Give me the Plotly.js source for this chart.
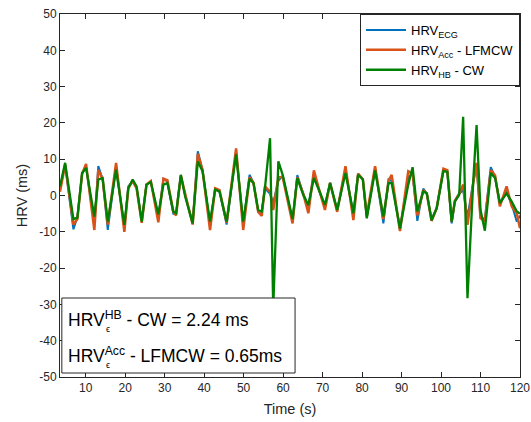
<!DOCTYPE html>
<html>
<head>
<meta charset="utf-8">
<script src="https://cdn.plot.ly/plotly-3.0.1.min.js"></script>
<style>html,body{margin:0;padding:0;background:#fff;}#chart{width:531px;height:422px;}</style>
</head>
<body>
<div id="chart"></div>
<script>
// Time (s)
const timeS = [3.5,4.8,6.9,7.9,9.1,10.1,12.2,13.2,14.3,15.6,17.7,19.8,20.8,21.9,22.9,24.2,25.4,26.5,28.4,29.7,30.7,32.2,32.9,34.1,35.2,37.1,38.4,39.6,41.5,42.8,43.9,45.7,48.1,49.9,51.5,52.5,53.7,54.6,55.4,56.7,57.5,58.8,59.9,62.4,63.6,65.1,66.4,67.8,68.9,70.6,71.9,73.7,75.8,77.8,79.0,80.2,81.2,83.3,85.4,86.7,87.5,89.6,91.7,92.8,94.0,95.5,96.4,97.6,98.9,100.6,101.6,102.7,103.5,104.6,105.6,106.7,108.2,109.0,110.0,111.1,112.6,113.7,114.9,116.6,117.9,119.2,120];
// HRV_ECG (ms)
const hrvECG = [2,8.5,-9.3,-6,6,8,-8,8.1,4.5,-9.5,8,-9,2.5,3.9,2,-7,3,3.7,-6,4.6,3.8,-5,-5,5.5,0,-7.5,12.2,7,-8,2,1,-8,12,-8,5.7,3.5,-4.5,-4.5,2,0.5,-2,4,5.5,-7,5.6,0.5,-3,6,2,-3,3.5,-4,7,-5,6,4.5,-6,7.5,-7.7,4.4,4,-9,5,6,-7,1.9,0.5,-6.5,-3.5,7,6.5,-7.7,-1.5,0.5,1.5,-6,4,8,-6,-6.5,7.8,5,-2,1,-2.5,-7.2,-5.5];
// HRV_Acc - LFMCW (ms)
const hrvAcc = [1,8.5,-8,-6.5,6,8.7,-9.5,7.1,4.5,-8,9,-10,2,4,2,-7.5,3,4,-7.4,4.6,4.2,-4.5,-5.5,5.5,0.5,-8,11.5,7,-9.5,2,1.5,-7.5,13,-9.5,5,3.5,-4.5,-5.6,2.5,1,-4,5,5,-7.7,5,0.5,-4.9,6.9,2.5,-4,3.5,-4.5,8.1,-6.8,6,4.5,-5.5,8.1,-6.5,4,5.7,-9.8,6.7,6,-5.5,1.5,0.5,-7,-3.5,7.4,7,-7.2,-1.5,0.5,3,-8.1,3.9,9,-6.3,-7,7,5.5,-3,2.5,-3,-5,-9];
// HRV_HB - CW (ms)
const hrvHB = [2.5,9,-6.5,-6.1,6.2,7.6,-5.8,4.4,4.8,-7.2,7.1,-8.1,2,4.4,2.5,-7.2,3,3.7,-5.2,3,3.4,-4.4,-4.9,5.7,-0.3,-7.7,9.4,6.7,-7.2,1.6,1.1,-7.2,11.3,-7.2,4.6,3.4,-4,-4.4,2,15.8,-31,9.4,5.7,-6.5,4.8,0.2,-2.6,4.8,2,-2.6,3.4,-4,6.2,-4.9,5.7,4.4,-6.3,6.9,-5.8,3.4,3.4,-9.1,3,7.8,-4.4,1.1,0.6,-6.8,-3.5,6.7,6.5,-7.2,-1.7,0.2,21.7,-28.3,4.8,19.4,-4,-9.7,6.2,4.8,-2.1,0.6,-1.7,-4.4,-5];

const seriesNames = ['HRV<sub>ECG</sub>', 'HRV<sub>Acc</sub> - LFMCW', 'HRV<sub>HB</sub> - CW'];
const xTicks = [10,20,30,40,50,60,70,80,90,100,110,120];
const yTicks = [-50,-40,-30,-20,-10,0,10,20,30,40,50];
const yTickText = yTicks.map(v => String(v));
const boxLines = ['HRV<sup>HB</sup> - CW = 2.24 ms', 'HRV<sup>Acc</sup> - LFMCW = 0.65ms'];

const axCol = '#262626';
const font = '"Liberation Sans", Arial, sans-serif';

const traces = [
  {x: timeS, y: hrvECG, name: seriesNames[0], mode: 'lines', line: {color: '#0072BD', width: 2}},
  {x: timeS, y: hrvAcc, name: seriesNames[1], mode: 'lines', line: {color: '#D95319', width: 2.5}},
  {x: timeS, y: hrvHB, name: seriesNames[2], mode: 'lines', line: {color: '#008000', width: 2.3}}
];

const layout = {
  width: 531, height: 422,
  margin: {l: 60, r: 11, t: 14, b: 45},
  paper_bgcolor: '#fff', plot_bgcolor: '#fff',
  font: {family: font, color: axCol, size: 12},
  showlegend: true,
  legend: {x: 1, y: 1, xanchor: 'right', yanchor: 'top', bgcolor: '#fff', itemwidth: 40,
           tracegroupgap: 0,
           bordercolor: axCol, borderwidth: 1, font: {family: font, size: 13, color: '#000'}},
  xaxis: {range: [3.5, 120], tickvals: xTicks, ticks: 'inside', ticklen: 5, tickcolor: axCol,
          showline: true, linecolor: axCol, linewidth: 1, mirror: 'allticks', showgrid: false, zeroline: false,
          tickfont: {family: font, size: 12, color: axCol},
          title: {text: 'Time (s)', font: {family: font, size: 14.5, color: axCol}, standoff: 9}},
  yaxis: {range: [-50, 50], tickvals: yTicks, ticktext: yTickText, ticks: 'inside', ticklen: 5, tickcolor: axCol,
          showline: true, linecolor: axCol, linewidth: 1, mirror: 'allticks', showgrid: false, zeroline: false,
          tickfont: {family: font, size: 12, color: axCol},
          title: {text: 'HRV (ms)', font: {family: font, size: 14.5, color: axCol}, standoff: 8}},
  shapes: [
    {type: 'rect', xref: 'paper', yref: 'paper', x0: 0.004, x1: 0.511, y0: 0.011, y1: 0.2176,
     line: {color: axCol, width: 1}, fillcolor: '#fff', layer: 'above'}
  ],
  annotations: [
    {xref: 'paper', yref: 'paper', x: 0.012, y: 0.159, xanchor: 'left', yanchor: 'middle', showarrow: false,
     text: boxLines[0], font: {family: font, size: 17.5, color: '#000'}},
    {xref: 'paper', yref: 'paper', x: 0.012, y: 0.0614, xanchor: 'left', yanchor: 'middle', showarrow: false,
     text: boxLines[1], font: {family: font, size: 17.5, color: '#000'}},
    {xref: 'paper', yref: 'paper', x: 0.1037, y: 0.132, xanchor: 'center', yanchor: 'middle', showarrow: false,
     text: 'ϵ', font: {family: font, size: 9, color: '#000'}},
    {xref: 'paper', yref: 'paper', x: 0.1037, y: 0.033, xanchor: 'center', yanchor: 'middle', showarrow: false,
     text: 'ϵ', font: {family: font, size: 9, color: '#000'}}
  ]
};

Plotly.newPlot('chart', traces, layout, {displayModeBar: false, staticPlot: true});
</script>
</body>
</html>
